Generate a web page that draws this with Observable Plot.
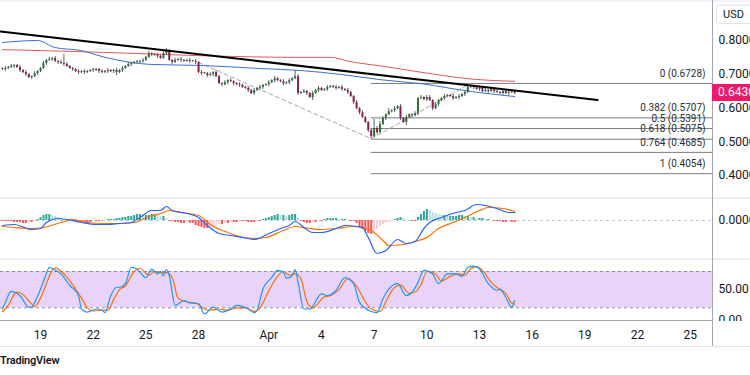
<!DOCTYPE html>
<html><head><meta charset="utf-8">
<script src="https://cdn.jsdelivr.net/npm/d3@7"></script>
<script src="https://cdn.jsdelivr.net/npm/@observablehq/plot@0.6"></script>
<style>
html,body{margin:0;padding:0;background:#fff;overflow:hidden;}
#wrap{position:relative;width:750px;height:375px;overflow:hidden;font-family:Roboto,"Noto Sans",sans-serif;background:#fff;}
.pane{position:absolute;left:0;}
.pane svg{max-width:none;display:block;}
.ln{position:absolute;}
</style></head><body><div id="wrap"></div>
<script>
// ---------- DATA ----------
// 4-hour candles, first at 2025-03-16 20:00 UTC
const firstOpen = 0.716;
const closes = [
.714,.717,.720,.723,.726,.720,.711,.705,.699,.690,
.693,.702,.708,.717,.732,.741,.744,.747,.738,.735,
.732,.729,.723,.717,.714,.708,.705,.708,.705,.708,
.711,.711,.714,.708,.705,.708,.711,.708,.711,.705,
.711,.717,.723,.729,.732,.735,.735,.738,.741,.750,
.761,.758,.756,.753,.747,.761,.770,.741,.735,.741,
.744,.741,.738,.741,.738,.738,.735,.705,.702,.702,
.696,.699,.705,.693,.672,.669,.675,.681,.678,.672,
.669,.667,.661,.658,.652,.643,.652,.658,.661,.667,
.669,.675,.681,.687,.681,.678,.672,.675,.681,.687,
.693,.643,.646,.649,.643,.631,.643,.652,.658,.652,
.655,.661,.664,.661,.658,.661,.655,.652,.646,.634,
.616,.598,.586,.572,.557,.533,.515,.539,.527,.551,
.569,.580,.589,.592,.598,.604,.569,.557,.572,.580,
.577,.583,.628,.631,.625,.631,.622,.598,.610,.622,
.628,.634,.637,.634,.628,.631,.634,.640,.646,.661,
.664,.661,.655,.658,.649,.652,.649,.655,.649,.646,
.643,.649,.643,.646,.649,.643];
// wick lengths beyond the body, in steps of 0.003
const upperWick = "1212112121"+"1211212121"+"2921112121"+"1211212112"+"1212112121"+"2112122112"+"1211212121"+"1212112121"+"1211212121"+"1212112121"+"6212112121"+"1211212121"+"1212112923"+"2131212121"+"1212122121"+"1211212121"+"2121121212"+"121211";
const lowerWick = "1211212121"+"2121121212"+"1211212121"+"1212112123"+"1211212121"+"1212112121"+"1211212121"+"2121121212"+"1211212122"+"1212112121"+"1211213121"+"1211212121"+"2121122121"+"1211212131"+"2121121212"+"1211212121"+"1212112121"+"121211";

// moving averages (candle index -> price)
const blueMaIdx = [0,12,18,27,34,44,51,68,88,102,116,129,143,160,175];
const blueMaVal = [0.794,0.800,0.779,0.770,0.7525,0.735,0.729,0.726,0.717,0.711,0.699,0.684,0.672,0.649,0.634];
const redMaIdx = [0,34,68,102,112,119,129,143,160,175];
const redMaVal = [0.773,0.765,0.755,0.750,0.750,0.737,0.725,0.706,0.686,0.679];

// trend line and swing (dashed) lines
const trendDates = ["2025-03-16T17:19Z","2025-04-19T17:20Z"];
const trendVals = [0.8267, 0.6234];
const swingIdx = [67, 126, 160];
const swingVal = [0.735, 0.509, 0.6728];

// Fibonacci retracement
const fibRatios = ["0","0.382","0.5","0.618","0.764","1"];
const fibPrices = [0.6728,0.5707,0.5391,0.5075,0.4685,0.4054];
const fibStartIdx = 126;

// MACD (values)
const macdIdx = [0,4,10,13,15,19,22,27,32,36,40,44,47,51,54,56,58,63,67,70,74,78,84,86,91,96,98,100,103,106,109,114,117,121,123,125,128,131,135,138,141,144,146,150,155,158,162,165,169,173,175];
const macdVal = [-0.005,-0.004,-0.009,-0.008,-0.002,0.002,0.001,-0.002,-0.004,-0.004,-0.003,-0.002,0.003,0.010,0.010,0.014,0.010,0.007,0.003,-0.005,-0.013,-0.015,-0.018,-0.019,-0.013,-0.007,-0.005,-0.001,-0.007,-0.012,-0.012,-0.008,-0.005,-0.006,-0.007,-0.017,-0.033,-0.030,-0.019,-0.023,-0.021,-0.008,-0.002,0.003,0.008,0.010,0.016,0.015,0.012,0.008,0.008];
const signalIdx = [0,4,11,14,20,24,29,35,40,45,50,54,57,61,67,71,77,81,86,90,96,100,105,109,114,120,123,127,130,132,137,141,145,149,154,158,163,166,171,175];
const signalVal = [-0.006,-0.007,-0.008,-0.007,-0.002,0.001,-0.002,-0.003,-0.003,-0.002,0.004,0.007,0.010,0.008,0.005,-0.004,-0.012,-0.016,-0.018,-0.017,-0.010,-0.006,-0.008,-0.009,-0.008,-0.006,-0.007,-0.012,-0.020,-0.025,-0.024,-0.021,-0.017,-0.008,-0.002,0.003,0.010,0.013,0.012,0.009];
// histogram per candle, in thousandths
const histogram = [
-1,-1,-1,-1,-2,-2,-2,-3,-3,-2,
-2,-1,1,3,5,6,6,5,4,3,
2,1,0,-1,-1,-1,-2,-2,-2,-2,
-2,-1,-1,-1,0,0,1,1,1,2,
2,3,3,4,4,5,6,6,5,5,
5,6,6,5,4,4,2,-1,-1,-2,
-2,-3,-3,-2,-3,-3,-5,-6,-7,-8,
-8,-7,-6,-5,-4,-4,-3,-3,-2,-2,
-2,-1,-1,-1,-2,-2,-2,-1,-1,1,
2,3,4,5,6,5,5,4,5,6,
6,3,-1,-2,-3,-3,-2,-2,-1,-1,
1,2,2,2,2,1,1,1,0,-1,
-1,-3,-6,-9,-11,-13,-14,-12,-9,-6,
-4,-3,-2,-1,1,2,3,2,1,0,
-1,-1,3,6,9,11,10,8,7,6,
5,5,4,4,4,4,5,5,4,4,
3,3,2,2,2,1,1,0,-1,-1,
-1,-2,-2,-1,-2,-2];

// Stochastic RSI
const kIdx = [0,1,3,4,6,9,10,11,13,15,16,17,20,23,26,27,29,32,34,35,37,39,40,42,44,46,49,51,53,54,55,56,57,59,62,64,67,69,72,75,78,80,84,86,87,89,92,94,96,97,99,100,101,103,105,109,111,114,117,120,122,125,128,130,132,135,138,140,142,144,147,149,152,155,157,159,161,163,166,169,170,172,174,175];
const kVal = [18,29,47,46,40,21,21,29,51,76,87,85,76,57,40,18,13,18,16,12,40,54,54,60,87,84,70,84,76,80,73,83,73,24,32,28,27,10,21,13,18,24,18,12,16,51,70,82,79,69,73,83,62,18,18,43,40,49,70,60,29,16,12,35,51,60,40,46,62,82,76,60,76,76,72,87,89,84,60,49,51,37,21,32];
const dIdx = [0,2,4,5,7,10,11,13,15,17,18,21,24,27,29,31,34,36,38,40,42,45,47,50,52,54,56,58,60,63,66,69,71,74,77,80,83,86,88,91,94,96,98,100,102,104,106,110,112,115,118,121,124,126,129,131,133,136,139,141,143,145,148,150,153,156,158,160,162,164,167,170,172,174,175];
const dVal = [14,24,42,46,42,26,22,36,60,82,86,76,58,36,20,15,16,16,34,50,56,80,85,74,80,78,78,70,36,30,28,18,16,18,16,20,20,14,20,48,72,80,74,76,68,30,20,38,40,50,68,56,30,18,14,30,48,58,44,46,58,80,76,64,72,76,74,85,88,82,62,50,44,28,26];

// axes
const priceTicks = [0.4,0.5,0.6,0.7,0.8];
const dateTicks = ["2025-03-19","2025-03-22","2025-03-25","2025-03-28","2025-04-01","2025-04-04","2025-04-07","2025-04-10","2025-04-13","2025-04-16","2025-04-19","2025-04-22","2025-04-25"];
const dateLabels = ["19","22","25","28","Apr","4","7","10","13","16","19","22","25"];

// ---------- BUILD ----------
const FONT = "Roboto, 'Noto Sans', sans-serif";
const UP = "#2e6f36", DOWN = "#8c1f50";
const H = 3600e3, t0 = Date.UTC(2025,2,16,20);
const dates = closes.map((_, i) => new Date(t0 + i*4*H));
const candles = closes.map((c,i) => {
  const o = i ? closes[i-1] : firstOpen;
  const top = Math.max(o,c), bot = Math.min(o,c);
  return {date: dates[i], open:o, close:c,
    b1: bot, b2: Math.max(top, bot + 0.0025),
    high: top + (+upperWick[i] || 0)*0.003, low: bot - (+lowerWick[i] || 0)*0.003};
});
const pts = (idx, val) => idx.map((k,j) => ({date: dates[k], v: val[j]}));
const xDomain = [new Date("2025-03-16T17:19Z"), new Date("2025-04-26T06:28Z")];
const X = {type:"utc", domain:xDomain, range:[0,712], axis:null};
const style = {background:"transparent", color:"#131722", fontFamily:FONT, fontSize:"12px", overflow:"visible"};
const fib = fibRatios.map((r,i) => ({price: fibPrices[i], label: `${r} (${fibPrices[i].toFixed(4)})`}));

const wrap = document.getElementById("wrap");
function place(el, top){ const d=document.createElement("div"); d.className="pane"; d.style.top=top+"px"; d.appendChild(el); wrap.appendChild(d); return el; }
function line(l,t,w,h,c){ const d=document.createElement("div"); d.className="ln"; Object.assign(d.style,{left:l+"px",top:t+"px",width:w+"px",height:h+"px",background:c}); wrap.appendChild(d); return d; }

// main pane
const mainPlot = Plot.plot({
  width:750, height:198, marginLeft:0, marginRight:38, marginTop:0, marginBottom:0,
  x: X, y: {domain:[0.4,0.8], range:[175,40], axis:null}, style,
  marks: [
    Plot.ruleY(fib, {y:"price", x1: () => dates[fibStartIdx], x2: () => xDomain[1], stroke:"#787b86", strokeWidth:1}),
    Plot.text(fib, {x: () => xDomain[1], y:"price", text:"label", textAnchor:"end", dx:-7, dy:-10, fontSize:10, fill:"#2a2e39"}),
    Plot.line(pts(swingIdx, swingVal), {x:"date", y:"v", stroke:"#a5a7ad", strokeDasharray:"4,3", strokeWidth:1}),
    Plot.line(pts(redMaIdx, redMaVal), {x:"date", y:"v", stroke:"#e4595a", strokeWidth:1, curve:"monotone-x"}),
    Plot.line(pts(blueMaIdx, blueMaVal), {x:"date", y:"v", stroke:"#3b6fd6", strokeWidth:1, curve:"monotone-x"}),
    Plot.ruleX(candles, {x:"date", y1:"low", y2:"high", stroke:"#5d606b", strokeWidth:1}),
    Plot.ruleX(candles, {x:"date", y1:"b1", y2:"b2", stroke: d => d.close >= d.open ? UP : DOWN, strokeWidth:2}),
    Plot.line(trendDates.map((d,i) => ({date:new Date(d), v:trendVals[i]})), {x:"date", y:"v", stroke:"#000", strokeWidth:2}),
    Plot.axisY({anchor:"right", ticks:priceTicks, tickFormat: d => d.toFixed(4), tickSize:0, tickPadding:6, fontSize:12, label:null})
  ]
});
place(mainPlot, 0);

// MACD pane
const histData = histogram.map((h,i) => {
  const v = h/1000, p = i ? histogram[i-1]/1000 : v;
  const fill = v >= 0 ? (v >= p ? "#26a69a" : "#b2dfdb") : (v <= p ? "#ff5252" : "#ffcdd2");
  return {date: dates[i], v, fill};
});
const macdPlot = Plot.plot({
  width:750, height:60, marginLeft:0, marginRight:38, marginTop:0, marginBottom:0,
  x: X, y: {domain:[0,0.01], range:[21,11], axis:null}, style,
  marks: [
    Plot.ruleY([0], {stroke:"#c3c5cc", strokeDasharray:"3,3"}),
    Plot.ruleX(histData, {x:"date", y1:0, y2:"v", stroke:"fill", strokeWidth:2}),
    Plot.line(pts(signalIdx, signalVal), {x:"date", y:"v", stroke:"#ff6d00", strokeWidth:1.2, curve:"monotone-x"}),
    Plot.line(pts(macdIdx, macdVal), {x:"date", y:"v", stroke:"#2962ff", strokeWidth:1.2, curve:"monotone-x"}),
    Plot.axisY({anchor:"right", ticks:[0], tickFormat: d => d.toFixed(4), tickSize:0, tickPadding:6, fontSize:12, label:null})
  ]
});
place(macdPlot, 199);

// Stoch RSI pane + date axis
const tickDates = dateTicks.map(d => new Date(d + "T00:00Z"));
const stochPlot = Plot.plot({
  width:750, height:90, marginLeft:0, marginRight:38, marginTop:0, marginBottom:28,
  x: X, y: {domain:[20,80], range:[48.3,12], axis:null}, style,
  marks: [
    Plot.rect([{a:xDomain[0], b:xDomain[1]}], {x1:"a", x2:"b", y1:() => 20, y2:() => 80, fill:"#e9d3fb"}),
    Plot.ruleY([20,80], {stroke:"#8a8d96", strokeDasharray:"3,3"}),
    Plot.line(pts(dIdx, dVal), {x:"date", y:"v", stroke:"#ff6d00", strokeWidth:1.2, curve:"monotone-x"}),
    Plot.line(pts(kIdx, kVal), {x:"date", y:"v", stroke:"#2196f3", strokeWidth:1.2, curve:"monotone-x"}),
    Plot.axisY({anchor:"right", ticks:[0,50], tickFormat: d => d.toFixed(2), tickSize:0, tickPadding:6, fontSize:12, label:null}),
    Plot.axisX({anchor:"bottom", ticks:tickDates, tickFormat: d => dateLabels[tickDates.findIndex(t => +t === +d)], tickSize:0, tickPadding:9, fontSize:12, label:null})
  ]
});
place(stochPlot, 259);

// frame lines
line(0,0,750,2,"#f0f3fa");
line(0,197,750,2,"#eceef2");
line(0,258,750,2,"#eceef2");
line(713,321,37,24,"#fff");
line(0,320,712,1,"#a3a6af");
line(0,346,750,1,"#e0e3eb");
line(712,0,1,346,"#a3a6af");

// USD tag
const usd = document.createElement("div");
Object.assign(usd.style,{position:"absolute",left:"716px",top:"5px",width:"40px",height:"19px",border:"1px solid #e0e3eb",borderRadius:"4px",boxSizing:"border-box",fontSize:"11px",lineHeight:"17px",paddingLeft:"6px",color:"#131722"});
usd.textContent = "USD"; wrap.appendChild(usd);

// last price tag
const last = closes[closes.length-1];
const yLast = mainPlot.scale("y").apply(last);
const tag = document.createElement("div");
Object.assign(tag.style,{position:"absolute",left:"712px",top:(yLast-8.5)+"px",width:"40px",height:"17px",background:"#f0186b",color:"#fff",fontSize:"12px",lineHeight:"17px",paddingLeft:"6px",boxSizing:"border-box"});
tag.textContent = last.toFixed(4); wrap.appendChild(tag);

// brand
const brand = document.createElement("div");
Object.assign(brand.style,{position:"absolute",left:"0px",top:"354px",fontSize:"11px",fontWeight:"600",color:"#131722",letterSpacing:"-0.2px"});
brand.textContent = "TradingView"; wrap.appendChild(brand);
</script></body></html>
